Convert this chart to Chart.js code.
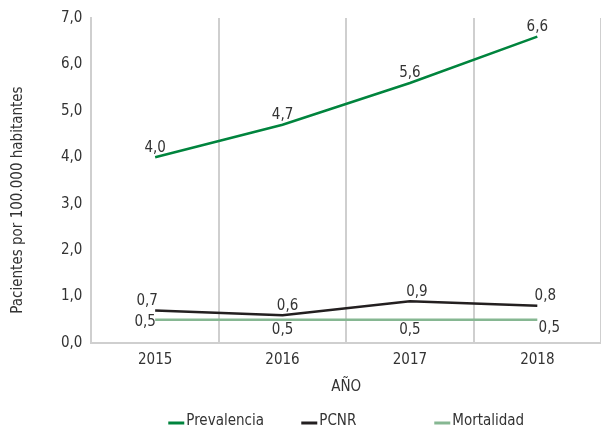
<!DOCTYPE html>
<html>
<head>
<meta charset="utf-8">
<script src="https://cdn.jsdelivr.net/npm/chart.js@4"></script>
<style>
  html, body { margin: 0; padding: 0; background: #fff; }
  #wrap { width: 601px; height: 428px; }
</style>
</head>
<body>
<div id="wrap"><canvas id="chart"></canvas></div>
<script>
const years = ['2015', '2016', '2017', '2018'];
const prevalencia = [4.0, 4.7, 5.6, 6.6];
const pcnr = [0.7, 0.6, 0.9, 0.8];
const mortalidad = [0.5, 0.5, 0.5, 0.5];
const yTicks = [0, 1, 2, 3, 4, 5, 6, 7];
const yTitle = 'Pacientes por 100.000 habitantes';

const FONT = "'Liberation Sans Narrow', 'DejaVu Sans Condensed', sans-serif";
const TEXT = '#333333';
const GRID = '#cfcfcf';

const fmt = v => v.toFixed(1).replace('.', ',');

// draws the value next to each point, above or below the line
const valueLabels = {
  id: 'valueLabels',
  afterDatasetsDraw(chart) {
    const ctx = chart.ctx;
    ctx.save();
    ctx.font = '15px ' + FONT;
    ctx.fillStyle = TEXT;
    ctx.textAlign = 'center';
    chart.data.datasets.forEach((ds, i) => {
      const meta = chart.getDatasetMeta(i);
      meta.data.forEach((pt, j) => {
        const below = ds.labelPos === 'below';
        const [dx, dy] = (ds.labelShift && ds.labelShift[j]) || [0, 0];
        ctx.textBaseline = below ? 'top' : 'bottom';
        ctx.fillText(fmt(ds.data[j]), pt.x + dx, (below ? pt.y + 3 : pt.y - 2) + dy);
      });
    });
    ctx.restore();
  }
};

// y title sits a bit below the middle of the plot in the original
const sideTitle = {
  id: 'sideTitle',
  afterDraw(chart) {
    const ctx = chart.ctx;
    ctx.save();
    ctx.translate(18, 200);
    ctx.rotate(-Math.PI / 2);
    ctx.font = '15px ' + FONT;
    ctx.fillStyle = TEXT;
    ctx.textAlign = 'center';
    ctx.textBaseline = 'middle';
    ctx.fillText(yTitle, 0, 0);
    ctx.restore();
  }
};

// legend drawn in equal slots under the axis title, like the original
const slotLegend = {
  id: 'slotLegend',
  afterDraw(chart) {
    const ctx = chart.ctx;
    const area = chart.chartArea;
    const slot = 133;
    const y = 421;
    const sets = chart.data.datasets;
    ctx.save();
    ctx.font = '15px ' + FONT;
    const lastW = 18 + ctx.measureText(sets[sets.length - 1].label).width;
    let x = (area.left + area.right) / 2 - ((sets.length - 1) * slot + lastW) / 2;
    sets.forEach(ds => {
      ctx.strokeStyle = ds.borderColor;
      ctx.lineWidth = 3;
      ctx.beginPath();
      ctx.moveTo(x, y + 2);
      ctx.lineTo(x + 16, y + 2);
      ctx.stroke();
      ctx.fillStyle = TEXT;
      ctx.textAlign = 'left';
      ctx.textBaseline = 'middle';
      ctx.fillText(ds.label, x + 18, y);
      x += slot;
    });
    ctx.restore();
  }
};

new Chart(document.getElementById('chart'), {
  type: 'line',
  data: {
    labels: years,
    datasets: [
      { label: 'Prevalencia', data: prevalencia, borderColor: '#00843d', borderWidth: 2.5, labelPos: 'above' },
      { label: 'PCNR', data: pcnr, borderColor: '#231f20', borderWidth: 2.5, labelPos: 'above',
        labelShift: [[-8, 0], [5, 0], [7, 0], [8, 0]] },
      { label: 'Mortalidad', data: mortalidad, borderColor: '#86b792', borderWidth: 2.5, labelPos: 'below',
        labelShift: [[-10, -8], [0, 0], [0, 0], [12, -2]] },
    ],
  },
  options: {
    responsive: true,
    maintainAspectRatio: false,
    animation: false,
    elements: { point: { radius: 0 }, line: { tension: 0 } },
    layout: { padding: { top: 16, right: 0, left: 52, bottom: 32 } },
    scales: {
      x: {
        offset: true,
        grid: {
          offset: true,
          drawTicks: false,
          color: GRID,
          lineWidth: ctx => (ctx.index === 0 ? 0 : 2),
        },
        border: { color: GRID, width: 2 },
        ticks: { color: TEXT, font: { family: FONT, size: 15 }, padding: 8 },
        title: { display: true, text: 'AÑO', color: TEXT, font: { family: FONT, size: 15 }, padding: { top: 1, bottom: 0 } },
      },
      y: {
        min: 0,
        max: 7,
        afterBuildTicks: axis => { axis.ticks = yTicks.map(v => ({ value: v })); },
        grid: { display: false, drawTicks: false },
        border: { color: GRID, width: 2 },
        ticks: { color: TEXT, font: { family: FONT, size: 15 }, padding: 9, callback: v => fmt(v) },
      },
    },
    plugins: {
      legend: { display: false },
      tooltip: { enabled: false },
    },
  },
  plugins: [valueLabels, sideTitle, slotLegend],
});
</script>
</body>
</html>
